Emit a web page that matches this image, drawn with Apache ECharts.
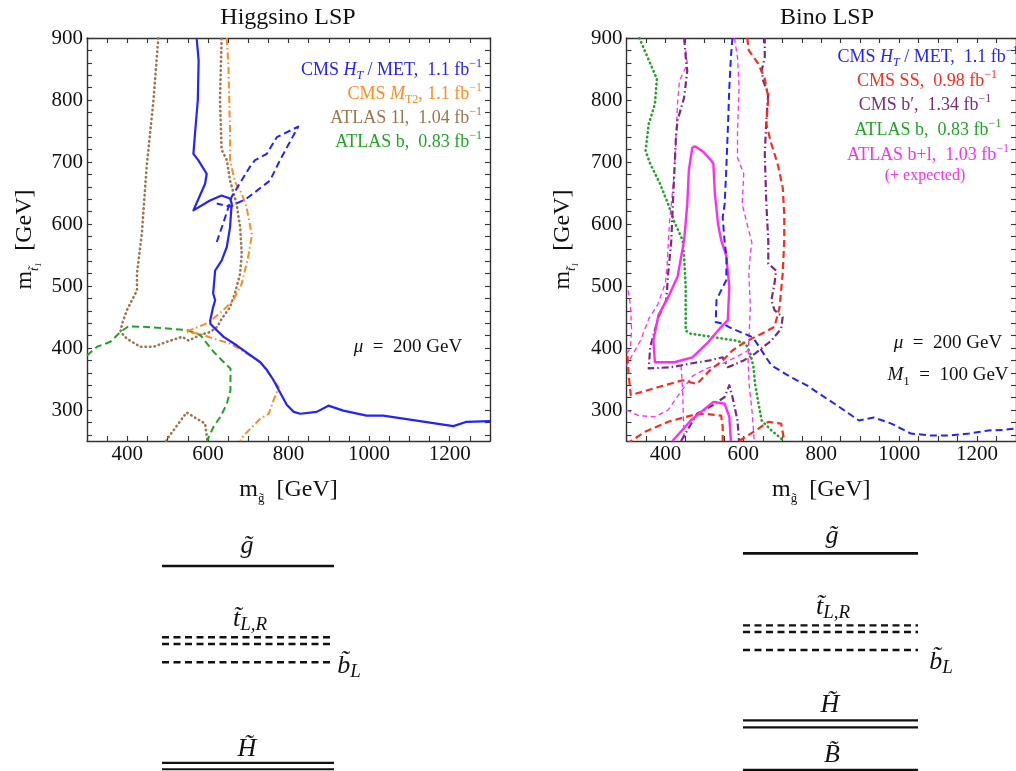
<!DOCTYPE html>
<html><head><meta charset="utf-8">
<script src="https://cdn.jsdelivr.net/npm/echarts@6/dist/echarts.min.js"></script>
<style>html,body{margin:0;padding:0;background:#fff}#c{width:1016px;height:771px}</style>
</head><body><div id="c"></div>
<script>
// ---------- axis ticks ----------
const xTickValues = [300,350,400,450,500,550,600,650,700,750,800,850,900,950,1000,1050,1100,1150,1200,1250,1300];
const xLabelValues = [400,600,800,1000,1200];
const yTickValues = [260,280,300,320,340,360,380,400,420,440,460,480,500,520,540,560,580,600,620,640,660,680,700,720,740,760,780,800,820,840,860,880,900];
const yLabelValues = [300,400,500,600,700,800,900];

// ---------- Higgsino LSP (left) ----------
const higCmsHtMet = [[572,900],[577,864],[575,800],[568,746],[564,713],[576,703],[597,681],[593,665],[564,622],[605,638],[634,646],[655,641],[659,633],[655,595],[647,563],[634,541],[618,525],[613,488],[618,477],[613,466],[606,445],[606,439],[618,431],[639,418],[672,404],[730,377],[747,364],[763,348],[776,332],[796,308],[813,297],[829,294],[870,297],[899,307],[936,299],[994,291],[1035,291],[1118,283],[1209,274],[1242,281],[1300,282]];
const higCmsHtMetExp = [[622,571],[642,609],[659,644],[676,662],[704,692],[717,703],[746,713],[771,740],[824,757],[779,703],[754,670],[696,641],[655,628],[622,633]];
const higCmsMt2 = [[647,900],[651,853],[653,800],[655,746],[655,703],[667,668],[684,649],[696,627],[709,582],[700,547],[684,504],[663,477],[638,461],[613,447],[594,439],[565,431],[544,426],[581,423],[614,415],[656,407],[697,391],[730,377],[751,359],[763,348],[776,337],[763,316],[751,294],[730,286],[689,259],[680,250]];
const higAtlas1l = [[477,900],[465,800],[448,692],[436,584],[424,520],[424,493],[399,461],[387,439],[383,426],[399,415],[432,402],[465,402],[498,410],[536,418],[552,412],[581,421],[606,426],[623,434],[634,447],[655,466],[667,488],[680,520],[684,552],[680,595],[671,633],[655,670],[647,703],[634,720],[630,800],[634,900]];
const higAtlas1lLow = [[496,250],[502,256],[547,296],[593,278],[597,259],[599,250]];
const higAtlasB = [[300,388],[325,402],[358,410],[383,426],[403,435],[449,434],[507,431],[548,429],[581,421],[598,407],[614,394],[647,372],[656,367],[656,332],[647,310],[631,289],[614,273],[602,256],[598,250]];

// ---------- Bino LSP (right) ----------
const binCmsHtMet = [[572,900],[568,869],[564,820],[560,750],[556,686],[552,632],[547,611],[552,570],[557,547],[556,509],[543,493],[531,477],[529,442],[547,439],[572,431],[622,418],[630,412],[655,388],[672,372],[722,353],[771,337],[781,332],[839,308],[897,283],[935,288],[980,278],[1030,262],[1080,259],[1129,259],[1179,262],[1229,267],[1270,268],[1300,270]];
const binCmsSS = [[610,900],[614,880],[639,858],[655,834],[664,804],[659,761],[672,729],[688,697],[701,659],[705,616],[705,574],[701,520],[693,466],[680,434],[647,423],[605,410],[572,396],[547,380],[514,364],[481,342],[444,348],[382,337],[311,324],[307,326],[305,360],[302,392],[300,395]];
const binCmsSSLow = [[300,245],[348,265],[407,281],[465,291],[498,294],[543,291],[547,273],[547,250]];
const binCmsSSLow2 = [[589,250],[639,270],[664,281],[697,278],[705,250]];
const binCmsBp = [[448,900],[452,869],[456,847],[448,804],[431,767],[427,740],[423,686],[419,632],[415,573],[407,520],[402,477],[382,450],[361,402],[357,367],[415,369],[465,375],[514,380],[547,385],[560,369],[572,372],[601,380],[630,391],[672,412],[697,431],[701,450],[680,461],[672,477],[680,504],[684,525],[664,536],[664,574],[659,632],[655,713],[659,767],[664,810],[651,831],[647,847],[655,869],[655,900]];
const binCmsBpLow = [[440,250],[481,294],[523,308],[552,321],[564,340],[572,321],[585,283],[589,250]];
const binAtlasB = [[333,900],[378,834],[373,794],[357,761],[349,718],[361,697],[386,665],[407,632],[423,603],[444,574],[448,547],[452,498],[452,428],[465,423],[519,418],[548,415],[581,412],[606,407],[618,391],[626,369],[630,342],[639,310],[647,283],[672,267],[705,250]];
const binAtlasBl = [[469,724],[477,725],[498,716],[518,702],[523,697],[527,648],[535,600],[543,574],[556,549],[564,498],[560,445],[539,431],[506,407],[469,385],[423,377],[373,377],[369,412],[382,453],[407,482],[431,515],[448,574],[456,632],[460,686],[469,724]];
const binAtlasBlLow = [[418,250],[465,283],[523,313],[552,310],[564,289],[568,250]];
const binAtlasBlExpA = [[452,880],[456,858],[436,831],[431,794],[427,740],[423,686],[415,632],[410,600],[405,540],[400,505],[380,470],[357,447],[336,412],[318,392],[300,372]];
const binAtlasBlExpB = [[577,900],[585,869],[589,820],[585,750],[585,707],[601,681],[597,632],[614,589],[622,570],[618,552],[614,520],[618,466],[614,412],[612,380],[615,340],[622,300],[628,250]];
const binAtlasBlExpC = [[300,300],[331,291],[373,289],[407,300],[440,330],[470,355],[506,367],[547,375],[580,385],[610,395]];
const binAtlasBlExpD = [[440,372],[444,332],[448,250]];
const binAtlasBlExpE = [[304,493],[310,470],[313,430],[310,400],[300,390]];

// ---------- mass spectra (schematic level heights) ----------
const leftLevelsSolid = [81.7];
const leftLevelsDashed = [53.3, 50.6, 43.3];
const leftLevelsDouble = [3.2, 0.7];
const rightLevelsSolid = [86.7, 0.4];
const rightLevelsDashed = [58.0, 55.4, 48.2];
const rightLevelsDouble = [20.2, 17.4];

// ---------- colours ----------
const C = {blue:'#2323ff', orange:'#ff8a1e', brown:'#9c7650', green:'#22a428', red:'#ff2a1e', purple:'#7b2a80', magenta:'#ff2cf4', frame:'#333333', text:'#111111'};
const FONT = 'Liberation Serif';

const chart = echarts.init(document.getElementById('c'), null, {renderer:'canvas'});

function xAx(grid, pos, labels, name) {
  return {type:'value', gridIndex:grid, position:pos, min:300, max:1300,
    axisLine:{show:true, onZero:false, lineStyle:{color:C.frame, width:1.4}},
    axisTick:{show:true, inside:true, length:5, customValues:xTickValues, lineStyle:{color:C.frame, width:1.1}},
    axisLabel:{show:labels, customValues:xLabelValues, formatter:v=>String(v), fontFamily:FONT, fontSize:21, color:C.text, margin:3},
    splitLine:{show:false},
    name: name||'', nameLocation:'middle', nameGap:34,
    nameTextStyle:{fontFamily:FONT, fontSize:24, color:C.text, rich:{m:{fontFamily:FONT,fontSize:24,color:C.text}, s:{fontFamily:FONT,fontSize:13,color:C.text,verticalAlign:'bottom',lineHeight:30}}}
  };
}
function yAx(grid, pos, labels, name, gap) {
  return {type:'value', gridIndex:grid, position:pos, min:250, max:900,
    axisLine:{show:true, onZero:false, lineStyle:{color:C.frame, width:1.4}},
    axisTick:{show:true, inside:true, length:5, customValues:yTickValues, lineStyle:{color:C.frame, width:1.1}},
    axisLabel:{show:labels, customValues:yLabelValues, formatter:v=>String(v), fontFamily:FONT, fontSize:21, color:C.text, margin:4},
    splitLine:{show:false},
    name: name||'', nameLocation:'middle', nameGap:gap||46, nameRotate:90,
    nameTextStyle:{fontFamily:FONT, fontSize:24, color:C.text, rich:{m:{fontFamily:FONT,fontSize:24,color:C.text}, s:{fontFamily:FONT,fontSize:13,fontStyle:'italic',color:C.text,verticalAlign:'bottom',lineHeight:32}}}
  };
}
function hidX(grid){return {type:'value', gridIndex:grid, min:0, max:1, show:false};}
function hidY(grid){return {type:'value', gridIndex:grid, min:0, max:100, show:false};}

const xName = '{m|m}{s|g̃}{m|  [GeV]}';
const yName = '{m|m}{s|t̃₁}{m|  [GeV]}';

const series = [];
function L(data, xi, yi, color, width, dash, cap) {
  series.push({type:'line', xAxisIndex:xi, yAxisIndex:yi, data:data, showSymbol:false, symbol:'none', silent:true,
    animation:false, clip:true, lineStyle:{color:color, width:width, type:dash||'solid', cap:cap||'butt', join:'round'}});
}
const DASH=[7,4], DOT=[0.5,4], DASHDOT=[7,3,1.5,3], THIN=[5,3.5];
// left
L(higAtlas1l,0,0,C.brown,2.6,DOT,'round');
L(higAtlas1lLow,0,0,C.brown,2.6,DOT,'round');
L(higAtlasB,0,0,C.green,2,DASH);
L(higCmsMt2,0,0,C.orange,2,DASHDOT);
L(higCmsHtMetExp,0,0,C.blue,2,DASH);
L(higCmsHtMet,0,0,C.blue,2.2);
// right
L(binAtlasB,2,2,C.green,2.6,DOT,'round');
L(binAtlasBlExpA,2,2,C.magenta,1.3,THIN);
L(binAtlasBlExpB,2,2,C.magenta,1.3,THIN);
L(binAtlasBlExpC,2,2,C.magenta,1.3,THIN);
L(binAtlasBlExpD,2,2,C.magenta,1.3,THIN);
L(binAtlasBlExpE,2,2,C.magenta,1.3,THIN);
L(binCmsBp,2,2,C.purple,2.2,DASHDOT);
L(binCmsBpLow,2,2,C.purple,2.2,DASHDOT);
L(binCmsSS,2,2,C.red,2.2,DASH);
L(binCmsSSLow,2,2,C.red,2.2,DASH);
L(binCmsSSLow2,2,2,C.red,2.2,DASH);
L(binAtlasBl,2,2,C.magenta,2.4);
L(binAtlasBlLow,2,2,C.magenta,2.4);
L(binCmsHtMet,2,2,C.blue,2,DASH);
// spectra
leftLevelsSolid.forEach(v=>L([[0,v],[1,v]],4,4,'#111',2.6));
leftLevelsDashed.forEach(v=>L([[0,v],[1,v]],4,4,'#111',2.4,[7,4.5]));
leftLevelsDouble.forEach(v=>L([[0,v],[1,v]],4,4,'#111',2.2));
rightLevelsSolid.forEach(v=>L([[0,v],[1,v]],5,5,'#111',2.6));
rightLevelsDashed.forEach(v=>L([[0,v],[1,v]],5,5,'#111',2.4,[7,4.5]));
rightLevelsDouble.forEach(v=>L([[0,v],[1,v]],5,5,'#111',2.2));

function T(x, y, text, rich, align, fill, size, extra) {
  const st = Object.assign({text:text, x:0, y:0, align:align||'center', verticalAlign:'middle',
      fontFamily:FONT, fontSize:size||18, fill:fill||C.text, rich:rich||{}}, extra||{});
  return {type:'text', x:x, y:y, z:10, silent:true, style:st};
}
function R(col, size) {
  size = size || 18;
  const lh = Math.round(size*1.35);
  return {
    n:{fontFamily:FONT, fontSize:size, fill:col, lineHeight:lh, verticalAlign:'middle'},
    i:{fontFamily:FONT, fontSize:size, fontStyle:'italic', fill:col, lineHeight:lh, verticalAlign:'middle'},
    s:{fontFamily:FONT, fontSize:Math.round(size*0.68), fontStyle:'italic', fill:col, lineHeight:lh, verticalAlign:'bottom'},
    r:{fontFamily:FONT, fontSize:Math.round(size*0.68), fill:col, lineHeight:lh, verticalAlign:'bottom'},
    p:{fontFamily:FONT, fontSize:Math.round(size*0.68), fill:col, lineHeight:lh, verticalAlign:'top'}
  };
}
function RS(size){
  return {
    i:{fontFamily:FONT, fontSize:size, fontStyle:'italic', fill:'#111', lineHeight:30, verticalAlign:'middle'},
    s:{fontFamily:FONT, fontSize:Math.round(size*0.72), fontStyle:'italic', fill:'#111', lineHeight:30, verticalAlign:'bottom'}
  };
}

const graphics = [
  T(288, 18, 'Higgsino LSP', null, 'center', C.text, 24),
  T(827, 18, 'Bino LSP', null, 'center', C.text, 24),
  // left legend
  T(482, 70, '{n|CMS }{i|H}{s|T}{n| / MET,  1.1 fb}{p|−1}', R(C.blue), 'right'),
  T(482, 94, '{n|CMS }{i|M}{r|T2}{n|, 1.1 fb}{p|−1}', R(C.orange), 'right'),
  T(482, 118, '{n|ATLAS 1l,  1.04 fb}{p|−1}', R(C.brown), 'right'),
  T(482, 142, '{n|ATLAS b,  0.83 fb}{p|−1}', R(C.green), 'right'),
  T(408, 347, '{i|μ}{n|  =  200 GeV}', R(C.text, 19), 'center'),
  // right legend
  T(928, 57, '{n|CMS }{i|H}{s|T}{n| / MET,  1.1 fb}{p|−1}', R(C.blue), 'center'),
  T(927, 81, '{n|CMS SS,  0.98 fb}{p|−1}', R(C.red), 'center'),
  T(925, 105, '{n|CMS b′,  1.34 fb}{p|−1}', R(C.purple), 'center'),
  T(928, 130, '{n|ATLAS b,  0.83 fb}{p|−1}', R(C.green), 'center'),
  T(928, 155, '{n|ATLAS b+l,  1.03 fb}{p|−1}', R(C.magenta), 'center'),
  T(925, 176, '(+ expected)', null, 'center', C.magenta, 16),
  T(948, 343, '{i|μ}{n|  =  200 GeV}', R(C.text, 19), 'center'),
  T(948, 375, '{i|M}{r|1}{n|  =  100 GeV}', R(C.text, 19), 'center'),
  // spectra labels
  T(247, 546, '{i|g̃}', RS(26), 'center'),
  T(250, 619, '{i|t̃}{s|L,R}', RS(26), 'center'),
  T(349, 666, '{i|b̃}{s|L}', RS(26), 'center'),
  T(247, 749, '{i|H̃}', RS(26), 'center'),
  T(832, 536, '{i|g̃}', RS(26), 'center'),
  T(833, 607, '{i|t̃}{s|L,R}', RS(26), 'center'),
  T(941, 662, '{i|b̃}{s|L}', RS(26), 'center'),
  T(830, 705, '{i|H̃}', RS(26), 'center'),
  T(832, 755, '{i|B̃}', RS(26), 'center')
];

const option = {
  animation:false,
  backgroundColor:'#ffffff',
  grid:[
    {left:87, top:38, width:403, height:403},
    {left:626.5, top:38, width:402, height:403},
    {left:162, top:520, width:172, height:251},
    {left:743, top:520, width:175, height:251}
  ],
  xAxis:[
    xAx(0,'bottom',true,xName), xAx(0,'top',false),
    xAx(1,'bottom',true,xName), xAx(1,'top',false),
    hidX(2), hidX(3)
  ],
  yAxis:[
    yAx(0,'left',true,yName,46), yAx(0,'right',false),
    yAx(1,'left',true,yName,48), yAx(1,'right',false),
    hidY(2), hidY(3)
  ],
  series: series,
  graphic: graphics
};
chart.setOption(option);
</script></body></html>
